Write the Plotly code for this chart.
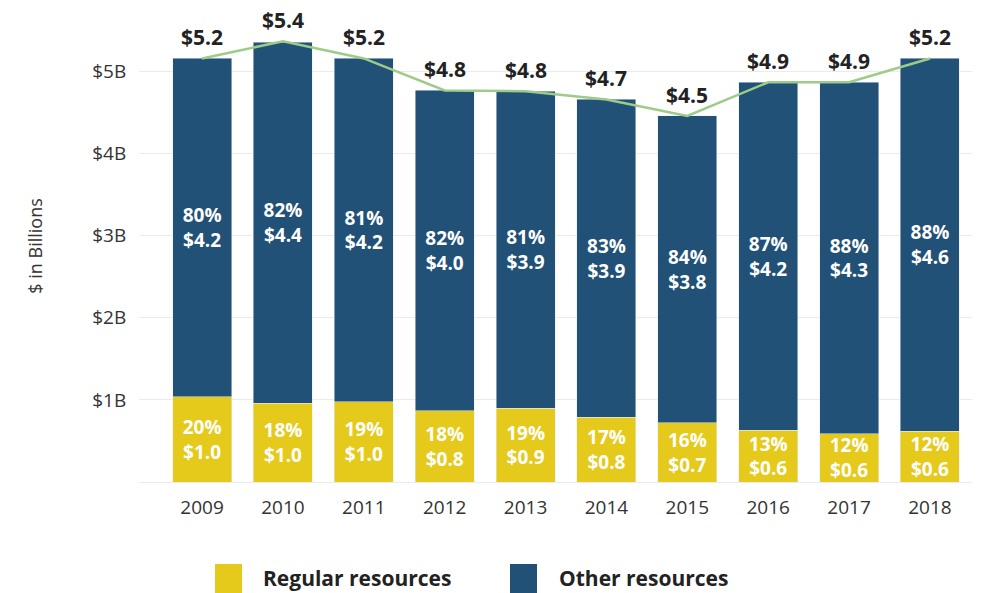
import plotly.graph_objects as go

# years and values ($ billions)
years = ["2009", "2010", "2011", "2012", "2013", "2014", "2015", "2016", "2017", "2018"]
regular = [1.04, 0.96, 0.98, 0.87, 0.90, 0.79, 0.72, 0.63, 0.59, 0.62]
other = [4.12, 4.40, 4.18, 3.90, 3.86, 3.87, 3.74, 4.24, 4.28, 4.54]
total = [5.16, 5.37, 5.16, 4.77, 4.76, 4.66, 4.46, 4.87, 4.87, 5.16]

regular_text = ["20%<br>$1.0", "18%<br>$1.0", "19%<br>$1.0", "18%<br>$0.8", "19%<br>$0.9",
                "17%<br>$0.8", "16%<br>$0.7", "13%<br>$0.6", "12%<br>$0.6", "12%<br>$0.6"]
other_text = ["80%<br>$4.2", "82%<br>$4.4", "81%<br>$4.2", "82%<br>$4.0", "81%<br>$3.9",
              "83%<br>$3.9", "84%<br>$3.8", "87%<br>$4.2", "88%<br>$4.3", "88%<br>$4.6"]
total_text = ["$5.2", "$5.4", "$5.2", "$4.8", "$4.8", "$4.7", "$4.5", "$4.9", "$4.9", "$5.2"]

ytick_vals = [1, 2, 3, 4, 5]
ytick_text = ["$1B", "$2B", "$3B", "$4B", "$5B"]

YELLOW = "#E5CA1B"
BLUE = "#215177"
GREEN = "#9DCB88"
FONT = "Open Sans"

bar_font = dict(color="white", size=19, family=FONT, weight="bold")

fig = go.Figure()
fig.add_trace(go.Bar(x=years, y=regular, name="Regular resources", marker_color=YELLOW,
                     text=regular_text, textposition="inside", insidetextanchor="middle",
                     textangle=0, textfont=bar_font, constraintext="none",
                     showlegend=False))
fig.add_trace(go.Bar(x=years, y=other, name="Other resources", marker_color=BLUE,
                     text=other_text, textposition="inside", insidetextanchor="middle",
                     textangle=0, textfont=bar_font, constraintext="none",
                     showlegend=False))
fig.add_trace(go.Scatter(x=years, y=total, mode="lines", line=dict(color=GREEN, width=2.5),
                         showlegend=False, hoverinfo="skip"))

# total labels above bars
for i, (t, lab) in enumerate(zip(total, total_text)):
    fig.add_annotation(x=i, y=t, text="<b>" + lab + "</b>", showarrow=False,
                       yanchor="bottom", yshift=5,
                       font=dict(size=21, color="#222222", family=FONT))

# legend drawn by hand (large squares)
legend_items = [("Regular resources", YELLOW, 215, 261), ("Other resources", BLUE, 510, 557)]
x0_px, w_px, y0_px, h_px = 139, 833, 482, 472
for name, col, sq_left, txt_left in legend_items:
    fig.add_shape(type="rect", xref="paper", yref="paper",
                  x0=(sq_left - x0_px) / w_px, x1=(sq_left + 27 - x0_px) / w_px,
                  y0=(y0_px - 564) / h_px, y1=(y0_px - 593) / h_px,
                  fillcolor=col, line_width=0)
    fig.add_annotation(xref="paper", yref="paper", x=(txt_left - x0_px) / w_px,
                       y=(y0_px - 578) / h_px, text="<b>" + name + "</b>", showarrow=False,
                       xanchor="left", yanchor="middle",
                       font=dict(size=21, color="#222222", family=FONT))

fig.update_layout(
    barmode="stack",
    bargap=0.27,
    width=986, height=593,
    margin=dict(l=139, r=14, t=10, b=111),
    plot_bgcolor="white", paper_bgcolor="white",
    font=dict(family=FONT, color="#333333"),
    uniformtext=dict(minsize=19, mode="show"),
    xaxis=dict(type="category", range=[-0.78, 9.52], showgrid=False, showline=False,
               zeroline=False, ticks="outside", ticklen=8, tickcolor="rgba(0,0,0,0)",
               tickfont=dict(size=19, color="#333333")),
    yaxis=dict(range=[0, 5.75], tickvals=ytick_vals, ticktext=ytick_text,
               showgrid=True, gridcolor="#EBEBEB", gridwidth=1,
               zeroline=True, zerolinecolor="#EBEBEB", zerolinewidth=1,
               ticks="outside", ticklen=8, tickcolor="rgba(0,0,0,0)",
               tickfont=dict(size=19, color="#333333"),
               title=dict(text="$ in Billions", font=dict(size=18, color="#333333"), standoff=44)),
)

fig.write_html("out.html", config={"displayModeBar": False},
               post_script="document.body.style.margin='0';")
